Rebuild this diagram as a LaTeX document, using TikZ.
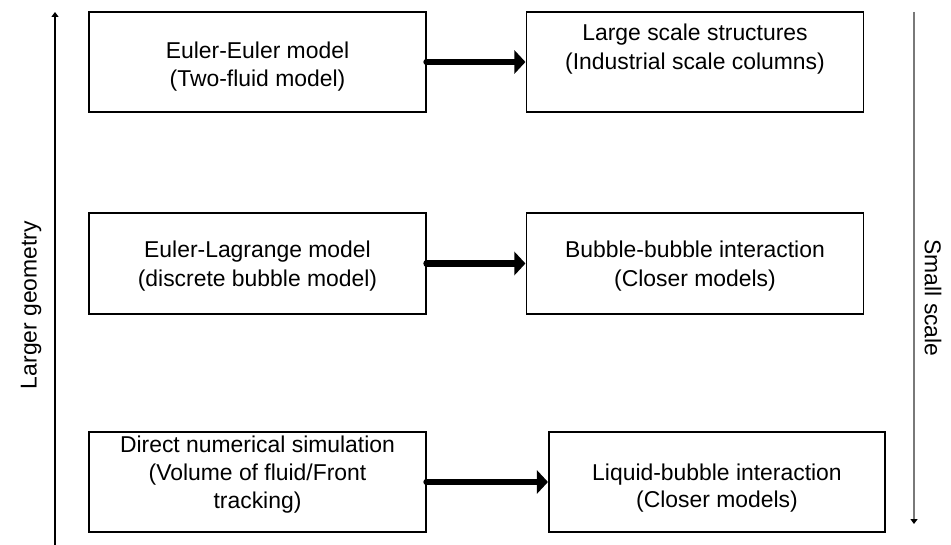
\documentclass[tikz,border=0pt]{standalone}
\usepackage{fontspec}
\setmainfont{Liberation Sans}
\usetikzlibrary{arrows.meta}

\begin{document}
\begin{tikzpicture}[x=1pt,y=-1pt,
  modelbox/.style={draw=black,line width=1.1pt,inner sep=0pt,
    minimum width=337pt,minimum height=100pt},
  boxtext/.style={anchor=base,inner sep=0pt,font=\fontsize{22.9}{28}\selectfont},
  sidetext/.style={inner sep=0pt,font=\fontsize{22.9}{28}\selectfont},
  flow/.style={line width=6.5pt,line cap=round,
    -{Triangle[length=11pt,width=23pt]},shorten >=0.5pt},
  axisup/.style={line width=1.3pt,draw=black,-{Triangle[length=5pt,width=7pt]}},
  axisdown/.style={line width=1.3pt,draw=gray!95!black,
    -{Triangle[length=5pt,width=7pt,color=black]}}]
  \useasboundingbox (0,0) rectangle (951,545);

  % boxes
  \node[modelbox] (ee) at (257.5,62) {};
  \node[modelbox] (ls) at (695,62) {};
  \node[modelbox,minimum height=101pt] (el) at (257.5,263.5) {};
  \node[modelbox,minimum height=101pt] (bb) at (695,263.5) {};
  \node[modelbox] (dns) at (257.5,482) {};
  \node[modelbox,minimum width=336pt] (lb) at (717,482) {};

  % box texts
  \node[boxtext] (ee1) at (257.5,59) {Euler-Euler model};
  \node[boxtext] (ee2) at (257.5,87) {(Two-fluid model)};
  \node[boxtext] (ls1) at (695,41) {Large scale structures};
  \node[boxtext] (ls2) at (695,70) {(Industrial scale columns)};
  \node[boxtext] (el1) at (257.5,258) {Euler-Lagrange model};
  \node[boxtext] (el2) at (257.5,287) {(discrete bubble model)};
  \node[boxtext] (bb1) at (695,258) {Bubble-bubble interaction};
  \node[boxtext] (bb2) at (695,287) {(Closer models)};
  \node[boxtext] (dns1) at (257.5,452) {Direct numerical simulation};
  \node[boxtext] (dns2) at (257.5,480) {(Volume of fluid/Front};
  \node[boxtext] (dns3) at (257.5,508) {tracking)};
  \node[boxtext] (lb1) at (717,480) {Liquid-bubble interaction};
  \node[boxtext] (lb2) at (717,507) {(Closer models)};

  % flow arrows
  \draw[flow] (ee.east) -- (ls.west);
  \draw[flow] (el.east) -- (bb.west);
  \draw[flow] (dns.east) -- (lb.west);

  % side axes
  \coordinate (lbot) at (55,545);
  \coordinate (ltop) at (55,12);
  \coordinate (rtop) at (914,12);
  \coordinate (rbot) at (914,524);
  \draw[axisup] (lbot) -- (ltop);
  \draw[axisdown] (rtop) -- (rbot);

  \node[sidetext,rotate=90] (larger) at (31,305) {Larger geometry};
  \node[sidetext,rotate=-90] (small) at (933,298) {Small scale};
\end{tikzpicture}
\end{document}
